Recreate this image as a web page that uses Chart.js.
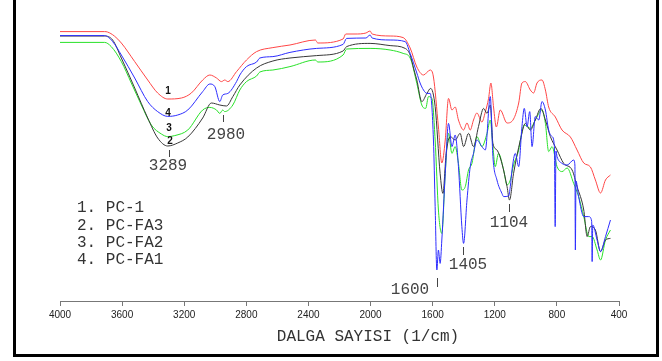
<!DOCTYPE html>
<html>
<head>
<meta charset="utf-8">
<title>FTIR - PC numuneleri</title>
<script src="https://cdn.jsdelivr.net/npm/chart.js@4.4.1/dist/chart.umd.min.js"></script>
<style>
  body { margin: 0; background: #fff; }
  canvas { display: block; }
</style>
</head>
<body>
<canvas id="ftir" width="662" height="361"></canvas>
<script>
// wavenumbers (1/cm) and relative transmittance

// 1. PC-1 (red)
const pc1Wn = [4000, 3713, 3694, 3650, 3605, 3519, 3435, 3371, 3306, 3218, 3154, 3081, 3035, 2992, 2960, 2939, 2919, 2863, 2799, 2734, 2629, 2519, 2355, 2340, 2177, 2160, 2100, 2030, 2003, 1990, 1874, 1790, 1745, 1702, 1659, 1616, 1595, 1563, 1541, 1519, 1498, 1476, 1455, 1434, 1401, 1379, 1358, 1337, 1315, 1283, 1261, 1240, 1225, 1208, 1190, 1165, 1121, 1079, 1046, 1025, 1003, 971, 950, 928, 896, 874, 853, 810, 767, 713, 670, 627, 584, 552, 519, 487, 455];
const pc1T = [134.7, 134.7, 134.5, 132.5, 129, 119.7, 110.5, 104, 101, 101.5, 104, 110.5, 113, 111.5, 109.7, 110.5, 109.7, 114.7, 120.5, 124.7, 126.7, 128, 130.5, 129, 131, 133.5, 133.5, 134, 135, 133.5, 132.5, 131.7, 126.5, 117, 113, 115.5, 112, 87, 69, 80.5, 101.3, 95.5, 97, 90.5, 85.5, 89, 85.5, 90.5, 94, 89.5, 94.5, 101.3, 109, 97, 87, 95.5, 89, 91, 99, 109, 109.7, 105.5, 104, 109, 110.5, 105.5, 97, 92, 85.5, 82, 75.5, 69, 67, 60.5, 54, 60.5, 63];

// 2. PC-FA3 (black)
const fa3Wn = [4000, 3713, 3661, 3605, 3519, 3435, 3371, 3306, 3242, 3177, 3081, 3025, 2971, 2928, 2887, 2842, 2734, 2629, 2519, 2347, 2177, 2154, 2003, 1874, 1777, 1745, 1720, 1702, 1670, 1637, 1613, 1584, 1552, 1534, 1513, 1487, 1455, 1423, 1401, 1369, 1337, 1305, 1272, 1250, 1229, 1212, 1186, 1154, 1121, 1105, 1079, 1035, 1003, 971, 939, 903, 874, 842, 799, 756, 702, 670, 627, 605, 584, 552, 519, 487, 455];
const fa3T = [132.5, 132.5, 130.5, 121.5, 106.5, 91.5, 81.5, 77.5, 79, 82, 91.5, 99, 98, 97.5, 102.2, 108, 116.5, 120, 121.5, 122.7, 125, 127.2, 128.8, 127.7, 126.3, 123, 115.5, 110.5, 99.7, 103.8, 106.3, 97.2, 63.8, 53.8, 73.8, 82.2, 80.5, 83.8, 77.2, 83.8, 77.2, 87.2, 96.3, 93.8, 98, 78.8, 75.5, 68.8, 57.2, 50.5, 63.8, 80.5, 88.8, 85.5, 90.5, 96.3, 90.5, 82.2, 75.5, 68.8, 65.5, 57.2, 45.5, 32.2, 37.2, 35.5, 24.7, 30.5, 31.3];

// 3. PC-FA2 (green)
const fa2Wn = [4000, 3713, 3670, 3605, 3541, 3476, 3412, 3347, 3306, 3261, 3177, 3081, 3035, 2992, 2971, 2952, 2939, 2887, 2842, 2799, 2734, 2713, 2629, 2519, 2355, 2340, 2177, 2154, 2003, 1874, 1790, 1745, 1702, 1670, 1645, 1627, 1605, 1584, 1563, 1541, 1519, 1498, 1476, 1455, 1434, 1412, 1390, 1369, 1347, 1315, 1283, 1250, 1229, 1212, 1197, 1176, 1143, 1121, 1100, 1079, 1046, 1035, 1010, 971, 939, 896, 874, 853, 831, 799, 767, 734, 692, 660, 627, 595, 573, 541, 519, 487, 455];
const fa2T = [129.3, 129.3, 127.2, 119.7, 109, 98, 88, 83.5, 82.2, 82.7, 85.5, 95.5, 96.8, 95.5, 93.8, 95.5, 94.7, 98, 105.5, 109.7, 112.5, 114.5, 115.5, 117.2, 120.5, 119.5, 123, 126, 126.3, 125.5, 123.8, 121.5, 108.8, 98, 96.3, 102.2, 101.3, 80.5, 45.5, 33.8, 63.8, 83.8, 73.8, 77.2, 68.8, 55.5, 57.2, 65.5, 68.8, 82.2, 77.2, 83.8, 90.5, 77.2, 67.2, 73.8, 65.5, 58, 60.5, 68, 75.5, 80.5, 88, 86.3, 90.5, 95.5, 88.8, 74.7, 77.2, 67.2, 64.7, 66.5, 58.8, 52.2, 42.2, 32.2, 32.2, 25.5, 20.5, 30.5, 35.5];

// 4. PC-FA1 (blue)
const fa1Wn = [4000, 3713, 3661, 3605, 3519, 3435, 3371, 3306, 3242, 3177, 3081, 3035, 3003, 2971, 2952, 2919, 2863, 2842, 2799, 2734, 2713, 2629, 2519, 2347, 2177, 2154, 2030, 2003, 1990, 1874, 1777, 1745, 1702, 1681, 1659, 1637, 1616, 1595, 1584, 1573, 1563, 1552, 1541, 1519, 1498, 1476, 1455, 1434, 1412, 1401, 1379, 1358, 1337, 1315, 1283, 1261, 1229, 1212, 1186, 1154, 1143, 1111, 1100, 1089, 1068, 1046, 1025, 1010, 992, 975, 960, 939, 917, 896, 874, 853, 831, 816, 811, 806, 799, 767, 734, 692, 684, 681, 677, 660, 627, 595, 576, 573, 569, 541, 519, 487, 455];
const fa1T = [132.7, 132.7, 129.7, 123, 111.5, 99.7, 94.7, 92.3, 93, 95.5, 104.7, 108.5, 107.2, 99.7, 103, 103.8, 109.7, 113, 117.2, 119.5, 121.5, 122.2, 124.3, 126.3, 128.3, 131.3, 131.5, 133, 131.5, 130.5, 129.7, 123.8, 114, 109, 105.5, 103.8, 103.8, 80.5, 47.2, 15.5, 25.5, 18.8, 30.5, 63.8, 88.8, 77.2, 83, 67.2, 37.2, 28.8, 50.5, 67.2, 73.8, 80.5, 77.2, 75.5, 102.2, 72.2, 60.5, 53.8, 52.2, 52.5, 57.2, 65.5, 73.8, 67.2, 87.2, 96.3, 87.2, 94.7, 77.2, 92.2, 90.5, 99.7, 95.5, 85.5, 82.2, 77.2, 37.2, 75, 72.2, 68.8, 68, 70.5, 68, 25.5, 60, 52.2, 42.2, 42.2, 40, 19.7, 38, 30.5, 24.7, 32.2, 40.5];

const legendLines = ["1. PC-1", "2. PC-FA3", "3. PC-FA2", "4. PC-FA1"];
const curveTags = ["1", "4", "3", "2"];
const peakTexts = ["3289", "2980", "1600", "1405", "1104"];
const axisTitle = "DALGA SAYISI (1/cm)";

function pts(wn, t) {
    return wn.map((w, i) => ({ x: w, y: t[i] }));
}

const mono = '"Liberation Mono", "Courier New", monospace';

// annotations, frame
const extras = {
    id: "extras",
    afterDraw(chart) {
        const ctx = chart.ctx;
        ctx.save();

        // frame (left, right, bottom)
        ctx.fillStyle = "#000";
        ctx.fillRect(13, 0, 3, 357);
        ctx.fillRect(656, 0, 3, 357);
        ctx.fillRect(13, 354, 646, 3);

        // curve numbers at the 3289 band
        ctx.font = "bold 10px 'Liberation Sans', Arial, sans-serif";
        ctx.fillStyle = "#111";
        ctx.textAlign = "center";
        ctx.textBaseline = "middle";
        const tagPos = [[168, 91], [168, 113], [169, 128], [170, 141]];
        curveTags.forEach((s, i) => ctx.fillText(s, tagPos[i][0], tagPos[i][1]));

        // peak labels with small marks
        ctx.font = "16px " + mono;
        ctx.fillStyle = "#444";
        const peakPos = [[168, 166], [226, 135], [410, 290], [468, 265], [509, 223]];
        peakTexts.forEach((s, i) => ctx.fillText(s, peakPos[i][0], peakPos[i][1]));
        ctx.strokeStyle = "#444";
        ctx.lineWidth = 1;
        const marks = [[169.5, 150, 157], [223.5, 115, 122], [437.5, 278, 287], [463.5, 247, 255], [509.5, 204, 212]];
        marks.forEach(m => {
            ctx.beginPath();
            ctx.moveTo(m[0], m[1]);
            ctx.lineTo(m[0], m[2]);
            ctx.stroke();
        });

        // legend text
        ctx.textAlign = "left";
        ctx.fillStyle = "#333";
        legendLines.forEach((s, i) => ctx.fillText(s, 77, 208 + i * 17.4));

        // axis title
        ctx.textAlign = "center";
        ctx.font = "16px " + mono;
        ctx.fillText(axisTitle, 368, 337);

        ctx.restore();
    }
};

const common = {
    pointRadius: 0,
    borderWidth: 1,
    fill: false,
    cubicInterpolationMode: "monotone"
};

new Chart(document.getElementById("ftir"), {
    type: "line",
    data: {
        datasets: [
            { ...common, label: "PC-FA1", data: pts(fa1Wn, fa1T), borderColor: "rgb(45,45,255)" },
            { ...common, label: "PC-FA3", data: pts(fa3Wn, fa3T), borderColor: "rgb(55,55,55)" },
            { ...common, label: "PC-FA2", data: pts(fa2Wn, fa2T), borderColor: "rgb(40,225,40)" },
            { ...common, label: "PC-1", data: pts(pc1Wn, pc1T), borderColor: "rgb(255,70,70)" }
        ]
    },
    options: {
        responsive: false,
        animation: false,
        layout: { padding: { left: 60, right: 43, top: 21, bottom: 0 } },
        plugins: {
            legend: { display: false },
            tooltip: { enabled: false }
        },
        scales: {
            x: {
                type: "linear",
                reverse: true,
                min: 400,
                max: 4000,
                afterFit: s => { s.height = 60; },
                ticks: {
                    stepSize: 400,
                    autoSkip: false,
                    maxRotation: 0,
                    padding: 3,
                    color: "#222",
                    font: { family: "'Liberation Sans', Arial, sans-serif", size: 10 },
                    callback: v => String(v)
                },
                grid: {
                    drawOnChartArea: false,
                    tickLength: 5,
                    color: "#777"
                },
                border: { color: "#777" }
            },
            y: {
                display: false,
                min: 0,
                max: 140
            }
        }
    },
    plugins: [extras]
});
</script>
</body>
</html>
